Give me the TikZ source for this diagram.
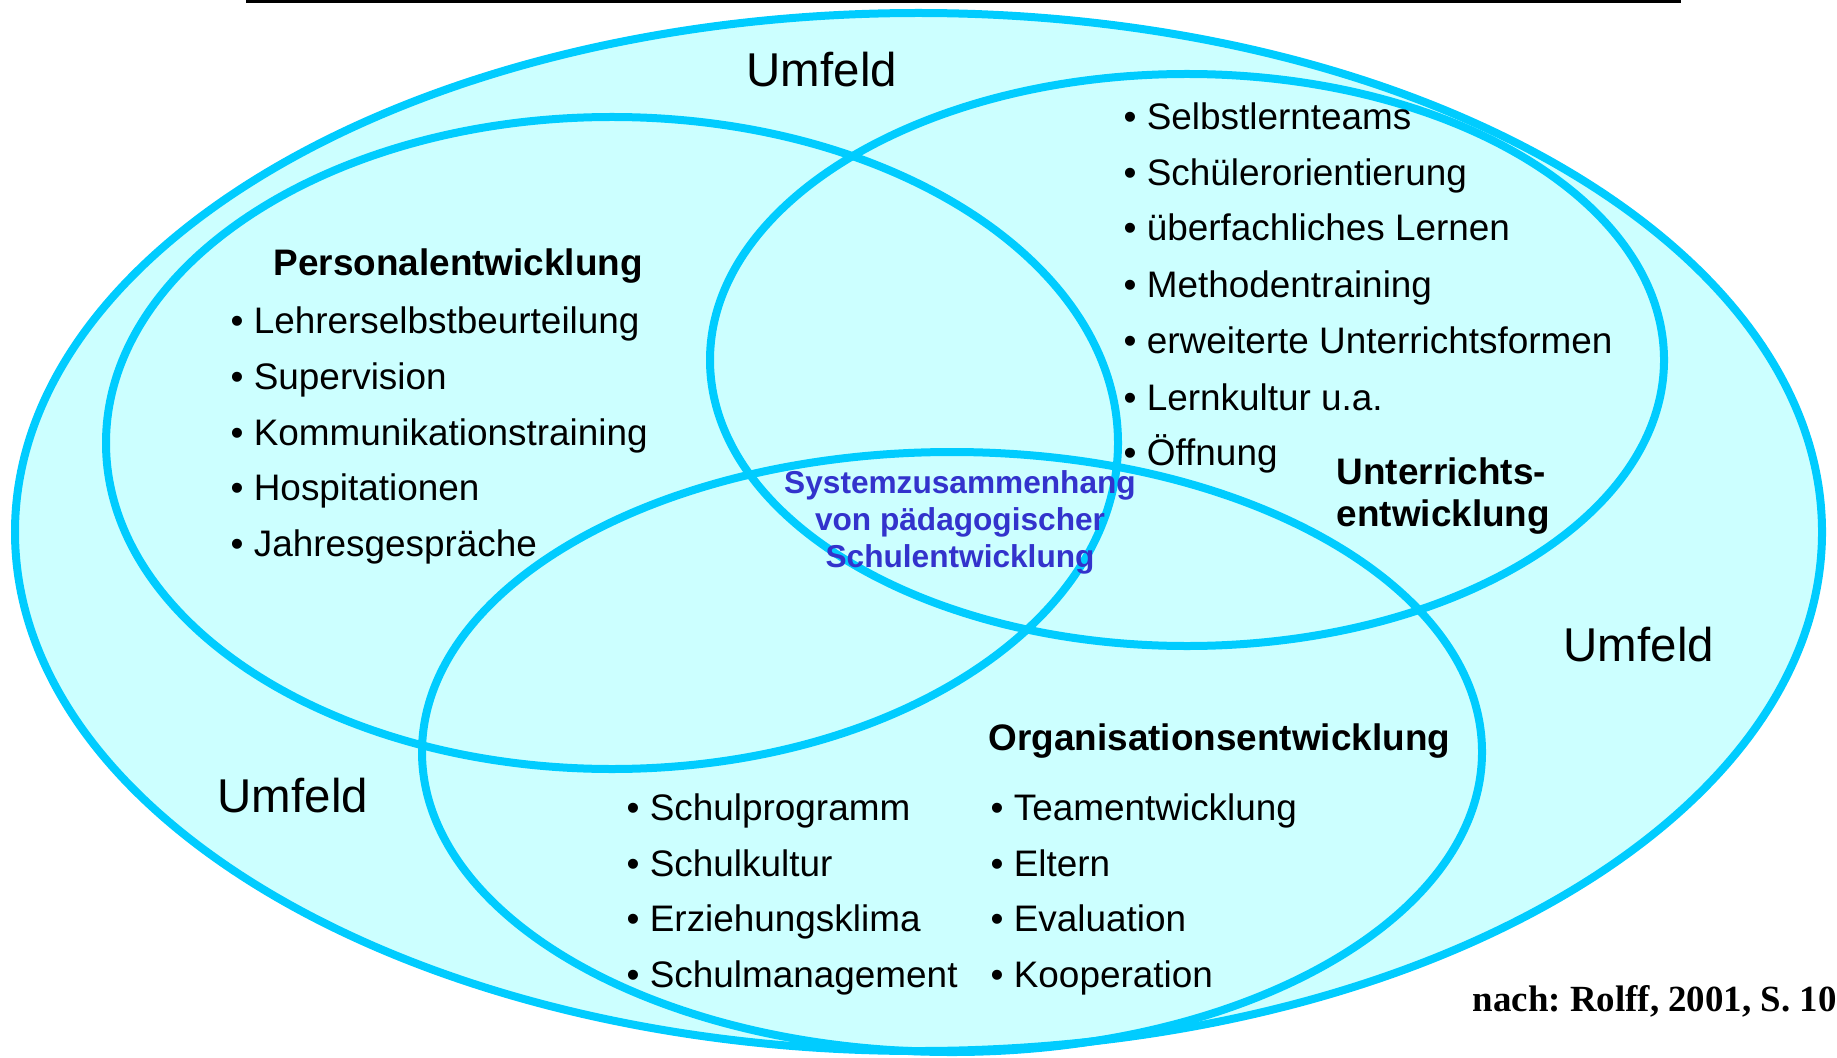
\documentclass[tikz,border=0pt]{standalone}
\usepackage{fontspec}
\setmainfont{Liberation Sans}
\newfontfamily\quelle{Liberation Serif}
\frenchspacing

\definecolor{ringblau}{HTML}{00CCFF}
\definecolor{flaeche}{HTML}{CCFFFF}
\definecolor{kernblau}{HTML}{3333CC}

\tikzset{
	ring/.style={draw=ringblau, line width=0.08cm},
	punkt/.style={anchor=base west, inner sep=0pt, font=\fontsize{10.5}{12}\selectfont},
	titel/.style={anchor=base west, inner sep=0pt, font=\fontsize{10.5}{12}\selectfont\bfseries},
	umfeld/.style={anchor=base west, inner sep=0pt, font=\fontsize{13.5}{16}\selectfont},
	kern/.style={anchor=base, inner sep=0pt, text=kernblau, font=\fontsize{9}{11}\selectfont\bfseries},
}

\begin{document}
\begin{tikzpicture}
	\useasboundingbox (0,0) rectangle (18.37,-10.57);
	\fill[black] (2.46,0) rectangle (16.81,-0.035);
	
	\fill[flaeche] (9.185,-5.32) ellipse (9.035 and 5.19);
	\draw[ring] (9.185,-5.32) ellipse (9.035 and 5.19);
	\draw[ring] (6.12,-4.43) ellipse (5.06 and 3.26);
	\draw[ring] (11.87,-3.60) ellipse (4.77 and 2.86);
	\draw[ring] (9.52,-7.52) ellipse (5.30 and 3.00);
	
	\node[umfeld] (umfeld1) at (7.46,-0.87) {Umfeld};
	\node[umfeld] (umfeld2) at (15.63,-6.61) {Umfeld};
	\node[umfeld] (umfeld3) at (2.17,-8.12) {Umfeld};
	
	\node[titel] (pe) at (2.73,-2.76) {Personalentwicklung};
	\node[punkt] (pe1) at (2.30,-3.33) {• Lehrerselbstbeurteilung};
	\node[punkt] (pe2) at (2.30,-3.89) {• Supervision};
	\node[punkt] (pe3) at (2.30,-4.45) {• Kommunikationstraining};
	\node[punkt] (pe4) at (2.30,-5.00) {• Hospitationen};
	\node[punkt] (pe5) at (2.30,-5.56) {• Jahresgespräche};
	
	\node[punkt] (ue1) at (11.23,-1.30) {• Selbstlernteams};
	\node[punkt] (ue2) at (11.23,-1.86) {• Schülerorientierung};
	\node[punkt] (ue3) at (11.23,-2.41) {• überfachliches Lernen};
	\node[punkt] (ue4) at (11.23,-2.98) {• Methodentraining};
	\node[punkt] (ue5) at (11.23,-3.54) {• erweiterte Unterrichtsformen};
	\node[punkt] (ue6) at (11.23,-4.10) {• Lernkultur u.a.};
	\node[punkt] (ue7) at (11.23,-4.65) {• Öffnung};
	\node[titel] (ue-a) at (13.36,-4.84) {Unterrichts-};
	\node[titel] (ue-b) at (13.36,-5.26) {entwicklung};
	
	\node[kern] (kern1) at (9.60,-4.93) {Systemzusammenhang};
	\node[kern] (kern2) at (9.60,-5.30) {von pädagogischer};
	\node[kern] (kern3) at (9.60,-5.67) {Schulentwicklung};
	
	\node[titel] (oe) at (9.88,-7.50) {Organisationsentwicklung};
	\node[punkt] (oe1) at (6.26,-8.20) {• Schulprogramm};
	\node[punkt] (oe2) at (6.26,-8.76) {• Schulkultur};
	\node[punkt] (oe3) at (6.26,-9.31) {• Erziehungsklima};
	\node[punkt] (oe4) at (6.26,-9.87) {• Schulmanagement};
	\node[punkt] (oe5) at (9.90,-8.20) {• Teamentwicklung};
	\node[punkt] (oe6) at (9.90,-8.76) {• Eltern};
	\node[punkt] (oe7) at (9.90,-9.31) {• Evaluation};
	\node[punkt] (oe8) at (9.90,-9.87) {• Kooperation};
	
	\node[anchor=base west, inner sep=0pt, font=\quelle\fontsize{10.5}{12}\selectfont\bfseries] (quelle) at (14.72,-10.11) {nach: Rolff, 2001, S. 10};
\end{tikzpicture}
\end{document}
